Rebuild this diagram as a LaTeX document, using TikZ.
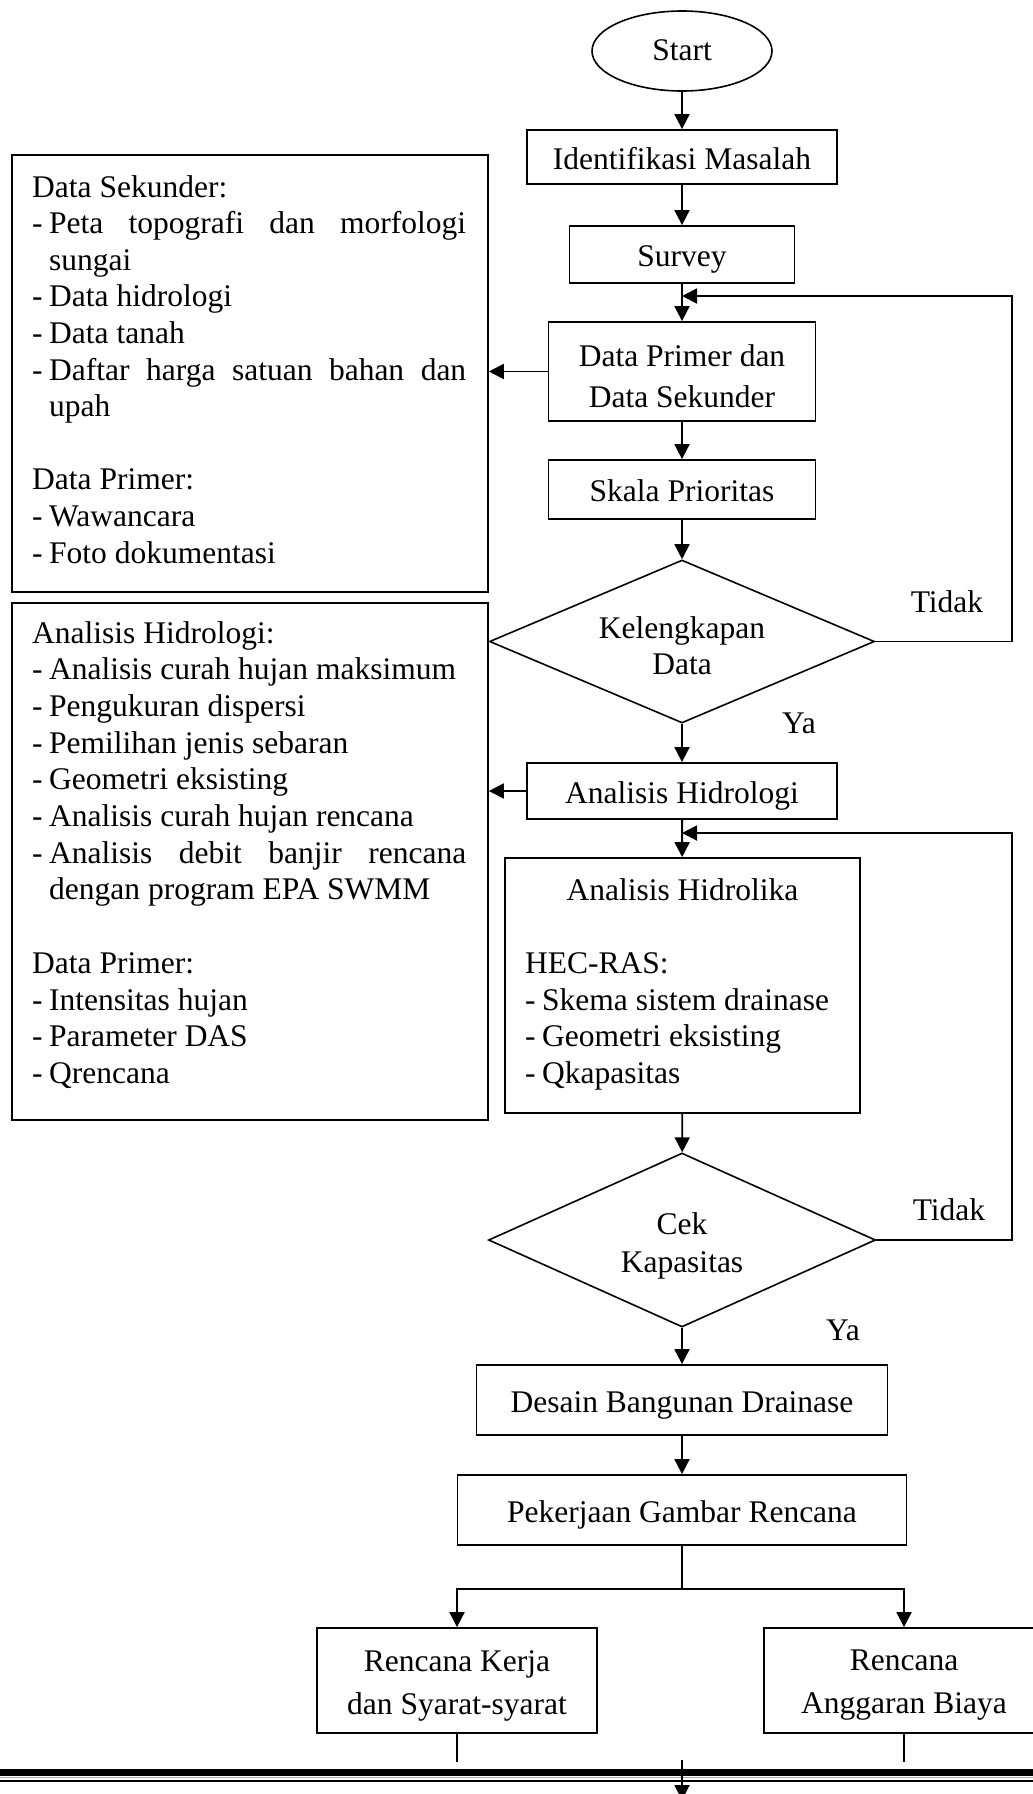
\documentclass[tikz,border=0pt]{standalone}
\usepackage{fontspec}
\setmainfont{Liberation Serif}
\usetikzlibrary{shapes.geometric,arrows.meta}
\newcommand\dashln[1]{\makebox[17pt][l]{-}#1}
\newcommand\contln[1]{\hspace*{17pt}#1}
\newcommand\justln[1]{\makebox[17pt][l]{-}\makebox[417pt][s]{#1}}
\begin{document}
\begin{tikzpicture}[x=1pt,y=-1pt,
  every node/.style={font=\fontsize{31.5}{37}\selectfont},
  box/.style={draw, line width=1.8pt, rectangle, inner sep=0pt, align=center, text height=24pt, text depth=0pt},
  dec/.style={draw, line width=1.6pt, diamond, inner sep=0pt},
  term/.style={draw, line width=1.6pt, ellipse, inner sep=0pt, text height=18pt, text depth=0pt},
  mtext/.style={inner sep=0pt, align=center},
  lbl/.style={inner sep=0pt, anchor=base},
  txt/.style={inner sep=0pt, anchor=base west},
  arr/.style={line width=1.9pt, -{Triangle[length=15pt,width=15pt]}},
  thinln/.style={line width=1.1pt}]
\useasboundingbox (0,0) rectangle (1033,1794);
\fill[white] (0,0) rectangle (1033,1794);
\clip (0,0) rectangle (1033,1794);

% main column
\node[term, minimum width=180pt, minimum height=80pt] (start) at (682,51) {Start};
\node[box, minimum width=310pt, minimum height=54pt] (ident) at (682,157) {Identifikasi Masalah};
\node[box, minimum width=225pt, minimum height=57pt] (survey) at (682,254.5) {Survey};
\node[box, minimum width=267pt, minimum height=99pt] (dp) at (682,371.5) {};
\node[mtext, font=\fontsize{31.5}{41}\selectfont] (dpt) at (682,376.5) {Data Primer dan\\Data Sekunder};
\node[box, minimum width=267pt, minimum height=59pt] (skala) at (682,489.5) {Skala Prioritas};
\node[dec, minimum width=385pt, minimum height=163pt] (d1) at (682,641.5) {};
\node[mtext, font=\fontsize{31.5}{36}\selectfont] (d1t) at (682,645.5) {Kelengkapan\\Data};
\node[box, minimum width=310pt, minimum height=56pt] (ah) at (682,791) {Analisis Hidrologi};
\node[box, minimum width=355pt, minimum height=255pt] (hk) at (682.5,985.5) {};
\node[txt, anchor=base] (hkt) at (682.5,900) {Analisis Hidrolika};
\node[txt] (hkl) at (525,973.3) {\parbox[t]{330pt}{\fontsize{31.5}{36.7}\selectfont
HEC-RAS:\\
\dashln{Skema sistem drainase}\\
\dashln{Geometri eksisting}\\
\dashln{Qkapasitas}}};
\node[dec, minimum width=387pt, minimum height=174pt] (d2) at (682,1240) {};
\node[mtext, font=\fontsize{31.5}{38}\selectfont] (d2t) at (682,1245.5) {Cek\\Kapasitas};
\node[box, minimum width=411pt, minimum height=70pt] (desain) at (682,1400) {Desain Bangunan Drainase};
\node[box, minimum width=449pt, minimum height=70pt] (pek) at (682,1510) {Pekerjaan Gambar Rencana};
\node[box, minimum width=280pt, minimum height=105pt] (rk) at (457,1680.5) {};
\node[mtext, font=\fontsize{31.5}{43}\selectfont] (rkt) at (457,1685.5) {Rencana Kerja\\dan Syarat-syarat};
\node[box, minimum width=280pt, minimum height=105pt] (rab) at (904,1680.5) {};
\node[mtext, font=\fontsize{31.5}{43}\selectfont] (rabt) at (904,1685.5) {Rencana\\Anggaran Biaya};

% left boxes
\node[box, minimum width=476pt, minimum height=437pt, anchor=north west] (lb1) at (11,154) {};
\node[txt] (lb1t) at (32,197) {\parbox[t]{434pt}{\fontsize{31.5}{36.6}\selectfont
Data Sekunder:\\
\justln{Peta topografi dan morfologi}\\
\contln{sungai}\\
\dashln{Data hidrologi}\\
\dashln{Data tanah}\\
\justln{Daftar harga satuan bahan dan}\\
\contln{upah}\\[36.6pt]
Data Primer:\\
\dashln{Wawancara}\\
\dashln{Foto dokumentasi}}};

\node[box, minimum width=476pt, minimum height=517pt, anchor=north west] (lb2) at (11,602) {};
\node[txt] (lb2t) at (32,643) {\parbox[t]{434pt}{\fontsize{31.5}{36.7}\selectfont
Analisis Hidrologi:\\
\dashln{Analisis curah hujan maksimum}\\
\dashln{Pengukuran dispersi}\\
\dashln{Pemilihan jenis sebaran}\\
\dashln{Geometri eksisting}\\
\dashln{Analisis curah hujan rencana}\\
\justln{Analisis debit banjir rencana}\\
\contln{dengan program EPA SWMM}\\[36.7pt]
Data Primer:\\
\dashln{Intensitas hujan}\\
\dashln{Parameter DAS}\\
\dashln{Qrencana}}};

% labels
\node[lbl] (tidak1) at (947,612) {Tidak};
\node[lbl] (ya1) at (799,733) {Ya};
\node[lbl] (tidak2) at (949,1220) {Tidak};
\node[lbl] (ya2) at (843,1340) {Ya};

% coordinates
\coordinate (fb1) at (682,296);
\coordinate (rt1) at (1012,296);
\coordinate (fb2) at (682,833);
\coordinate (rt2) at (1012,833);
\coordinate (sp) at (682,1589);
\coordinate (rkB) at (457,1762);
\coordinate (rabB) at (904,1762);
\coordinate (botS) at (682,1760);
\coordinate (botE) at (682,1800);

% connectors
\draw[arr] (start) -- (ident);
\draw[arr] (ident) -- (survey);
\draw[arr] (survey) -- (dp);
\draw[arr] (dp) -- (skala);
\draw[arr] (skala) -- (d1);
\draw[arr] (d1) -- (ah);
\draw[arr] (ah) -- (hk);
\draw[arr] (hk) -- (d2);
\draw[arr] (d2) -- (desain);
\draw[arr] (desain) -- (pek);
\draw[arr] (dp.west) -- (dp.west -| lb1.east);
\draw[arr] (ah.west) -- (ah.west -| lb2.east);
\draw[arr] (d1.east) -| (rt1) -- (fb1);
\draw[arr] (d2.east) -| (rt2) -- (fb2);
\draw[thinln] (pek.south) -- (sp);
\draw[arr] (sp) -| (rk.north);
\draw[arr] (sp) -| (rab.north);
\draw[thinln] (rk.south) -- (rkB);
\draw[thinln] (rab.south) -- (rabB);

% bottom double rule
\draw[line width=7pt] (0,1772.5) -- (1033,1772.5);
\draw[line width=1pt, black!35] (0,1777.6) -- (1033,1777.6);
\draw[line width=2pt] (0,1780.6) -- (1033,1780.6);
\draw[arr] (botS) -- (botE);
\end{tikzpicture}
\end{document}
